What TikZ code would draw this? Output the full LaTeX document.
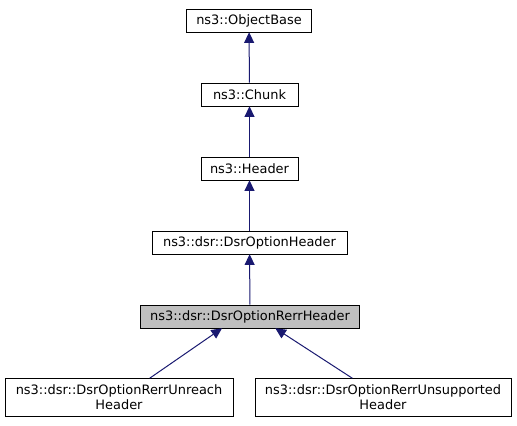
\documentclass[tikz,border=0pt]{standalone}
\usepackage{fontspec}
\setmainfont{DejaVu Sans}
\usetikzlibrary{arrows.meta}

\tikzset{
  cls/.style={draw=black, fill=white, font=\fontsize{9.7}{11.3}\selectfont,
    align=center, inner sep=0pt, minimum height=17.25pt},
  cur/.style={cls, fill=black!25},
  inh/.style={draw={rgb,255:red,25;green,25;blue,112}, line width=0.75pt,
    -{Triangle[width=7.5pt,length=8pt,fill={rgb,255:red,25;green,25;blue,112}]}}
}

\begin{document}
\begin{tikzpicture}[x=0.75pt, y=-0.75pt]
  \useasboundingbox (0,0) rectangle (517,425);

  % class boxes
  \node[cls, minimum width=93.75pt]  (objbase) at (249,20.5) {ns3::ObjectBase};
  \node[cls, minimum width=72.75pt]  (chunk)   at (249.5,94.5) {ns3::Chunk};
  \node[cls, minimum width=72.75pt]  (header)  at (249.5,168.5) {ns3::Header};
  \node[cls, minimum width=146.25pt] (opthdr)  at (249.5,242.5) {ns3::dsr::DsrOptionHeader};
  \node[cur, minimum width=164.25pt] (rerr)    at (250,316.5) {ns3::dsr::DsrOptionRerrHeader};
  \node[cls, minimum width=171pt, minimum height=28.5pt] (unreach) at (119,397.5)
    {ns3::dsr::DsrOptionRerrUnreach\\Header};
  \node[cls, minimum width=192pt, minimum height=28.5pt] (unsupp)  at (383,397.5)
    {ns3::dsr::DsrOptionRerrUnsupported\\Header};

  % inheritance
  \draw[inh] (chunk) -- (objbase);
  \draw[inh] (header) -- (chunk);
  \draw[inh] (opthdr) -- (header);
  \draw[inh] (rerr) -- (opthdr);
  \draw[inh] ([xshift=23pt]unreach.north) -- ([xshift=-21pt]rerr.south);
  \draw[inh] ([xshift=-23pt]unsupp.north) -- ([xshift=19pt]rerr.south);
\end{tikzpicture}
\end{document}
